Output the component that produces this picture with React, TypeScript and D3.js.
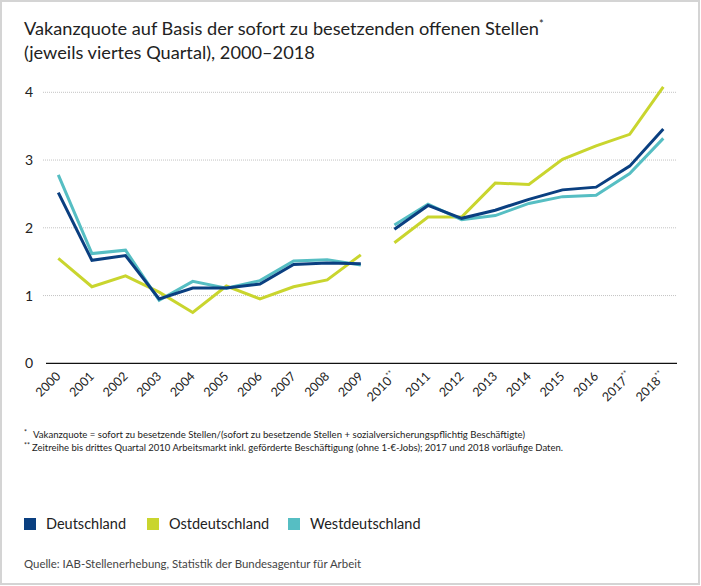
import * as d3 from "d3";

const years = [
  "2000", "2001", "2002", "2003", "2004", "2005", "2006", "2007", "2008", "2009",
  "2010", "2011", "2012", "2013", "2014", "2015", "2016", "2017", "2018",
];
const yearMarks = ["", "", "", "", "", "", "", "", "", "", "**", "", "", "", "", "", "", "**", "**"];
const periods = [
  ["2000", "2009"],
  ["2010", "2018"],
];

const deutschland = [2.52, 1.52, 1.59, 0.95, 1.11, 1.11, 1.17, 1.46, 1.48, 1.47, 1.98, 2.33, 2.14, 2.26, 2.42, 2.56, 2.6, 2.91, 3.46];
const ostdeutschland = [1.55, 1.13, 1.29, 1.05, 0.75, 1.14, 0.95, 1.13, 1.23, 1.6, 1.78, 2.16, 2.16, 2.66, 2.64, 3.01, 3.21, 3.38, 4.08];
const westdeutschland = [2.78, 1.62, 1.67, 0.93, 1.21, 1.11, 1.22, 1.51, 1.53, 1.45, 2.04, 2.35, 2.12, 2.18, 2.36, 2.46, 2.48, 2.8, 3.32];

const seriesNames = ["Deutschland", "Ostdeutschland", "Westdeutschland"];
const seriesValues = [deutschland, ostdeutschland, westdeutschland];
const colors = ["#0a3f80", "#c9d52e", "#56bec3"];
const yTicks = [0, 1, 2, 3, 4];

const W = 701;
const H = 586;
const font = "Lato, 'Open Sans', sans-serif";

export default function App() {
  const x = d3.scalePoint().domain(years).range([58.3, 663.3]);
  const y = d3.scaleLinear().domain([0, 4]).range([363.3, 92.3]);

  const line = d3
    .line<[string, number]>()
    .x((d) => x(d[0])!)
    .y((d) => y(d[1]));

  const legendX = [24, 147, 288];

  return (
    <svg width={W} height={H} style={{ position: "absolute", left: 0, top: 0 }} fontFamily={font}>
      <rect x={0} y={0} width={W} height={H} fill="#fff" />
      <rect x={1} y={1} width={W - 3} height={H - 3} fill="none" stroke="#d4d4d4" strokeWidth={2} />

      <text x={24} y={35} fontSize={18.2} fill="#222">
        Vakanzquote auf Basis der sofort zu besetzenden offenen Stellen
        <tspan fontSize={11} dy={-7}>*</tspan>
      </text>
      <text x={24} y={59} fontSize={18.2} fill="#222">
        (jeweils viertes Quartal), 2000–2018
      </text>

      {yTicks.map((t) => (
        <g key={t}>
          {t > 0 && (
            <line x1={43} x2={676} y1={y(t)} y2={y(t)} stroke="#c4c4c4" strokeWidth={1} strokeDasharray="1,1" />
          )}
          <text x={25} y={y(t) + 5} fontSize={14} fill="#222">
            {t}
          </text>
        </g>
      ))}
      <line x1={46} x2={677} y1={y(0)} y2={y(0)} stroke="#111" strokeWidth={1.3} />

      {years.map((yr, i) => (
        <text
          key={yr}
          transform={`translate(${x(yr)! + 3},${377}) rotate(-45)`}
          textAnchor="end"
          fontSize={12.5}
          fill="#222"
        >
          {yr}
          {yearMarks[i] && (
            <tspan fontSize={8} dy={-5}>
              {yearMarks[i]}
            </tspan>
          )}
        </text>
      ))}

      {[1, 2, 0].map((s) =>
        periods.map(([a, b]) => {
          const i0 = years.indexOf(a);
          const i1 = years.indexOf(b);
          const pts: [string, number][] = years
            .slice(i0, i1 + 1)
            .map((yr, k) => [yr, seriesValues[s][i0 + k]]);
          return (
            <path
              key={`${s}-${a}`}
              d={line(pts)!}
              fill="none"
              stroke={colors[s]}
              strokeWidth={3}
              strokeLinejoin="miter"
            />
          );
        })
      )}

      <text x={24} y={435} fontSize={7} fill="#222">*</text>
      <text x={33} y={438} fontSize={9.5} fill="#222" textLength={492} lengthAdjust="spacingAndGlyphs">
        Vakanzquote = sofort zu besetzende Stellen/(sofort zu besetzende Stellen + sozialversicherungspflichtig Beschäftigte)
      </text>
      <text x={24} y={448} fontSize={7} fill="#222">**</text>
      <text x={32} y={451} fontSize={9.5} fill="#222" textLength={531} lengthAdjust="spacingAndGlyphs">
        Zeitreihe bis drittes Quartal 2010 Arbeitsmarkt inkl. geförderte Beschäftigung (ohne 1-€-Jobs); 2017 und 2018 vorläufige Daten.
      </text>

      {seriesNames.map((n, i) => (
        <g key={n}>
          <rect x={legendX[i]} y={518} width={12} height={12} fill={colors[i]} />
          <text x={legendX[i] + 22} y={529} fontSize={14.5} fill="#222">
            {n}
          </text>
        </g>
      ))}

      <text x={24} y={568} fontSize={11.5} fill="#444" textLength={337} lengthAdjust="spacingAndGlyphs">
        Quelle: IAB-Stellenerhebung, Statistik der Bundesagentur für Arbeit
      </text>
    </svg>
  );
}
